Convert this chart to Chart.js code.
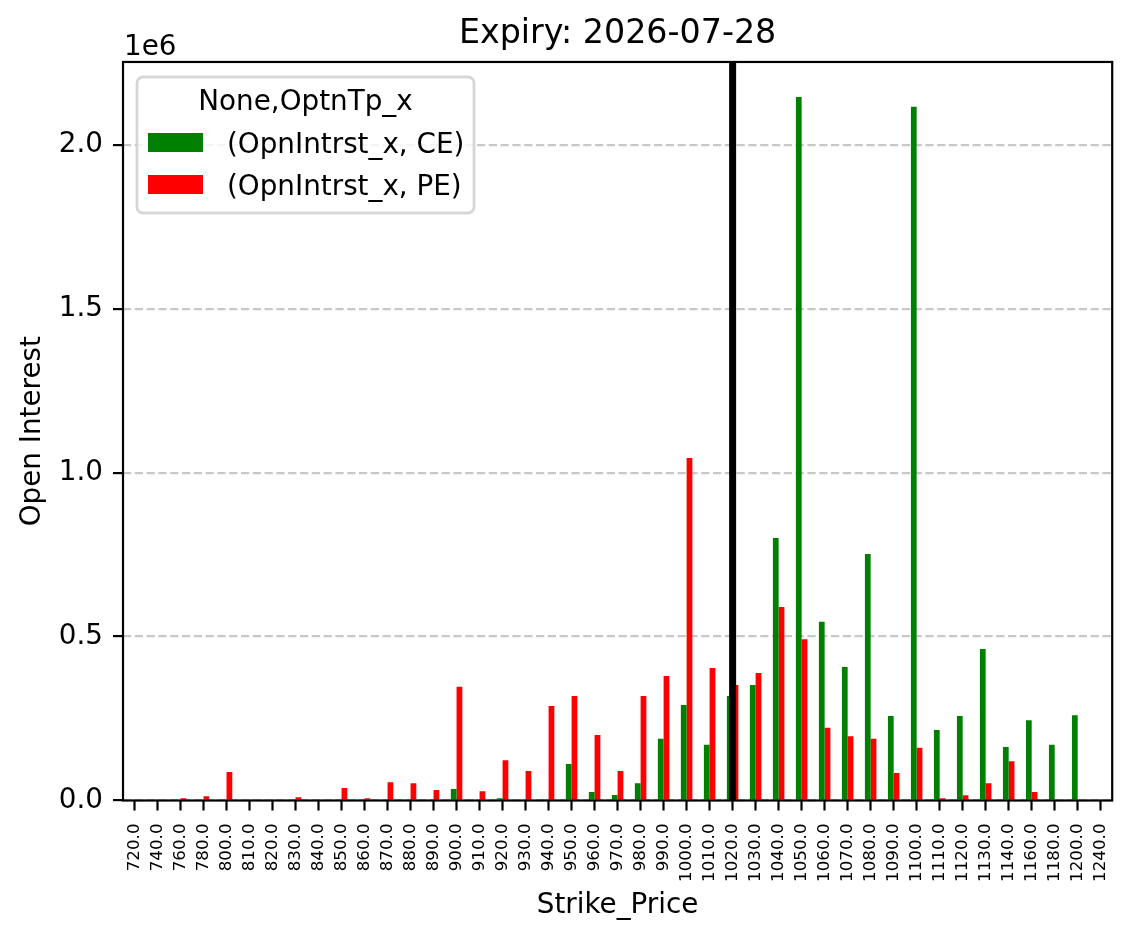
<!DOCTYPE html>
<html lang="en">
  <head>
    <script src="https://cdn.jsdelivr.net/npm/chart.js"></script>
    <style>
      body { margin: 0; background: #fff; }
    </style>
  </head>
  <body>
    <canvas id="oiChart" width="1134" height="939"></canvas>
    <script>
      const strikes = [
        "720.0", "740.0", "760.0", "780.0", "800.0", "810.0", "820.0", "830.0",
        "840.0", "850.0", "860.0", "870.0", "880.0", "890.0", "900.0", "910.0",
        "920.0", "930.0", "940.0", "950.0", "960.0", "970.0", "980.0", "990.0",
        "1000.0", "1010.0", "1020.0", "1030.0", "1040.0", "1050.0", "1060.0",
        "1070.0", "1080.0", "1090.0", "1100.0", "1110.0", "1120.0", "1130.0",
        "1140.0", "1160.0", "1180.0", "1200.0", "1240.0"
      ];
      const ceOI = [
        0, 0, 0, 0, 0, 0, 0, 0, 0, 0, 0, 0, 0, 0, 35000, 0, 7000, 0, 4000,
        111000, 26000, 17000, 53000, 188000, 291000, 170000, 319000, 352000,
        801000, 2146000, 545000, 407000, 752000, 258000, 2116000, 215000,
        258000, 462000, 163000, 245000, 170000, 260000, 0
      ];
      const peOI = [
        0, 0, 7000, 13000, 87000, 0, 0, 10000, 0, 38000, 7000, 56000, 53000,
        32000, 347000, 28000, 123000, 90000, 288000, 319000, 200000, 90000,
        319000, 380000, 1045000, 404000, 352000, 389000, 590000, 492000,
        222000, 196000, 188000, 84000, 161000, 7000, 16000, 53000, 120000,
        26000, 0, 0, 0
      ];
      const seriesLabels = ["(OpnIntrst_x, CE)", "(OpnIntrst_x, PE)"];
      const legendTitle = "None,OptnTp_x";
      const spotStrike = "1020.0";
      const yTicks = [0, 500000, 1000000, 1500000, 2000000];

      const FONT = "'DejaVu Sans'";
      Chart.defaults.color = "#000";
      Chart.defaults.font.family = FONT;

      // spot line, frame, offset text and legend drawn on top
      const overlay = {
        id: "overlay",
        afterDatasetsDraw(chart) {
          const { ctx, chartArea: a, scales } = chart;
          ctx.save();
          // spot strike marker
          const x = scales.x.getPixelForValue(strikes.indexOf(spotStrike));
          ctx.strokeStyle = "#000";
          ctx.lineWidth = 7;
          ctx.beginPath();
          ctx.moveTo(x, a.top);
          ctx.lineTo(x, a.bottom);
          ctx.stroke();
          // frame
          ctx.lineWidth = 2.2;
          ctx.strokeRect(a.left, a.top, a.right - a.left, a.bottom - a.top);
          // offset text
          ctx.fillStyle = "#000";
          ctx.font = "27.8px " + FONT;
          ctx.textAlign = "left";
          ctx.textBaseline = "alphabetic";
          ctx.fillText("1e6", a.left + 1, 55);

          // legend
          const lx = 137, ly = 77, lw = 337, lh = 136, r = 6;
          ctx.beginPath();
          ctx.roundRect(lx, ly, lw, lh, r);
          ctx.fillStyle = "rgba(255,255,255,0.8)";
          ctx.fill();
          ctx.strokeStyle = "rgba(204,204,204,0.8)";
          ctx.lineWidth = 2.8;
          ctx.stroke();
          ctx.fillStyle = "#000";
          ctx.textAlign = "center";
          ctx.fillText(legendTitle, 305.5, 110);
          ctx.textAlign = "left";
          chart.data.datasets.forEach((ds, i) => {
            const y = 133 + i * 42;
            ctx.fillStyle = ds.backgroundColor;
            ctx.fillRect(148, y, 55, 19);
            ctx.fillStyle = "#000";
            ctx.fillText(ds.label, 227, y + 20);
          });
          ctx.restore();
        }
      };

      new Chart(document.getElementById("oiChart"), {
        type: "bar",
        data: {
          labels: strikes,
          datasets: [
            {
              label: seriesLabels[0],
              data: ceOI,
              backgroundColor: "#008000",
              borderWidth: 0,
              categoryPercentage: 0.5,
              barPercentage: 1.0
            },
            {
              label: seriesLabels[1],
              data: peOI,
              backgroundColor: "#ff0000",
              borderWidth: 0,
              categoryPercentage: 0.5,
              barPercentage: 1.0
            }
          ]
        },
        options: {
          responsive: false,
          devicePixelRatio: 1,
          animation: false,
          layout: { padding: { left: 0, right: 19, top: 0, bottom: 0 } },
          plugins: {
            legend: { display: false },
            tooltip: { enabled: false },
            title: {
              display: true,
              fullSize: false,
              text: "Expiry: 2026-07-28",
              color: "#000",
              font: { size: 33.3, weight: "normal", family: FONT },
              padding: { top: 14.2, bottom: 7.8 }
            }
          },
          scales: {
            x: {
              offset: true,
              grid: {
                offset: false,
                drawOnChartArea: false,
                tickLength: 10,
                tickWidth: 2.2,
                tickColor: "#000"
              },
              border: { display: false },
              ticks: {
                autoSkip: false,
                minRotation: 90,
                maxRotation: 90,
                padding: 13,
                color: "#000",
                font: { size: 16.7, family: FONT }
              },
              title: {
                display: true,
                text: "Strike_Price",
                color: "#000",
                font: { size: 27.8, family: FONT },
                padding: { top: 0, bottom: 17 }
              },
              afterFit(scale) { scale.height = 138.5; }
            },
            y: {
              min: 0,
              max: 2253000,
              afterBuildTicks(scale) {
                scale.ticks = yTicks.map(v => ({ value: v }));
              },
              grid: {
                color: "rgba(176,176,176,0.7)",
                lineWidth: 2.2,
                tickLength: 10,
                tickWidth: 2.2,
                tickColor: "#000",
                tickBorderDash: []
              },
              border: { display: false, dash: [8.2, 3.6] },
              ticks: {
                padding: 10,
                color: "#000",
                font: { size: 27.8, family: FONT },
                callback: (v) => (v / 1e6).toFixed(1)
              },
              title: {
                display: true,
                text: "Open Interest",
                color: "#000",
                font: { size: 27.8, family: FONT },
                padding: { top: 16, bottom: 0 }
              },
              afterFit(scale) { scale.width = 123; }
            }
          }
        },
        plugins: [overlay]
      });
    </script>
  </body>
</html>
